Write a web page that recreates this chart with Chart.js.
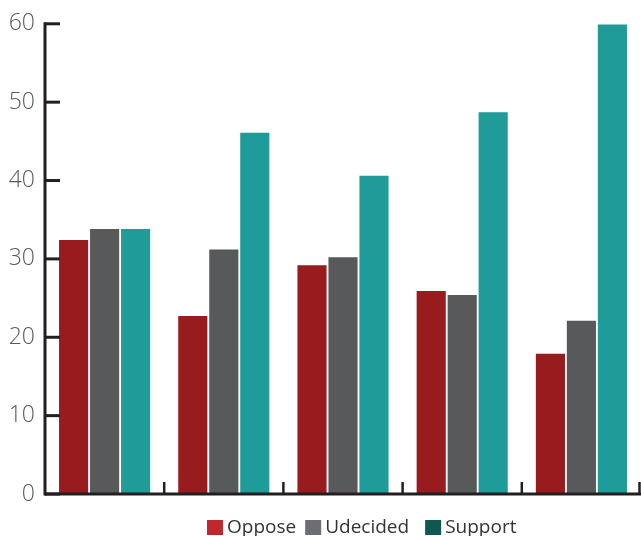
<!DOCTYPE html>
<html>
<head>
<meta charset="utf-8">
<script src="https://cdn.jsdelivr.net/npm/chart.js@4.4.1/dist/chart.umd.min.js"></script>
<style>
  html, body { margin: 0; padding: 0; background: #ffffff; }
  #wrap { position: relative; width: 641px; height: 536px; }
</style>
</head>
<body>
<div id="wrap"><canvas id="pollChart"></canvas></div>
<script>
// ==========================================
// DATA
// ==========================================

const groups = ["1", "2", "3", "4", "5"];

const seriesNames = ["Oppose", "Udecided", "Support"];

const opposeValues = [32.4, 22.7, 29.2, 25.9, 17.9];
const undecidedValues = [33.8, 31.2, 30.2, 25.4, 22.1];
const supportValues = [33.8, 46.1, 40.6, 48.7, 59.9];

const yTicks = [0, 10, 20, 30, 40, 50, 60];

// bar colours and (slightly different) legend swatch colours
const barColors = ["#981b1e", "#58595b", "#1f9b99"];
const legendColors = ["#c1272d", "#6d6e71", "#0e584f"];

const axisColor = "#231f20";
const fontFamily = "'Open Sans', 'Noto Sans', sans-serif";

// ==========================================
// AXES + LEGEND PLUGIN
// ==========================================

const axesPlugin = {
    id: "axesPlugin",
    afterDraw(chart) {
        const ctx = chart.ctx;
        const x = chart.scales.x;
        const y = chart.scales.y;
        const area = chart.chartArea;

        ctx.save();
        ctx.strokeStyle = axisColor;
        ctx.lineWidth = 3;
        ctx.lineCap = "butt";

        // y axis line
        ctx.beginPath();
        ctx.moveTo(area.left, y.getPixelForValue(yTicks[yTicks.length - 1]) - 1.5);
        ctx.lineTo(area.left, area.bottom + 1.5);
        ctx.stroke();

        // y ticks pointing inwards
        yTicks.forEach(v => {
            const py = y.getPixelForValue(v);
            ctx.beginPath();
            ctx.moveTo(area.left, py);
            ctx.lineTo(area.left + 15, py);
            ctx.stroke();
        });

        // x axis line
        ctx.beginPath();
        ctx.moveTo(area.left, area.bottom);
        ctx.lineTo(area.right, area.bottom);
        ctx.stroke();

        // x ticks at group boundaries, pointing up
        ctx.lineWidth = 2.5;
        const step = x.getPixelForValue(1) - x.getPixelForValue(0);
        for (let i = 1; i <= groups.length; i++) {
            let px = x.getPixelForValue(i) - step / 2;
            if (i === groups.length) px = Math.min(px, area.right - 1.5);
            ctx.beginPath();
            ctx.moveTo(px, area.bottom);
            ctx.lineTo(px, area.bottom - 12);
            ctx.stroke();
        }

        // legend
        ctx.font = "19px " + fontFamily;
        ctx.textBaseline = "middle";
        ctx.fillStyle = "#333333";
        let lx = 207;
        const ly = 527;
        const gaps = [9, 16, 0];
        chart.data.datasets.forEach((ds, i) => {
            ctx.fillStyle = legendColors[i];
            ctx.fillRect(lx, ly - 7, 16, 15);
            lx += 16 + 4;
            ctx.fillStyle = "#333333";
            ctx.fillText(ds.label, lx, ly + 1);
            lx += ctx.measureText(ds.label).width + gaps[i];
        });

        ctx.restore();
    }
};

// ==========================================
// BAR CHART
// ==========================================

const pollCtx = document.getElementById("pollChart");

new Chart(pollCtx, {

    type: "bar",

    data: {

        labels: groups,

        datasets: [
            { label: seriesNames[0], data: opposeValues, backgroundColor: barColors[0] },
            { label: seriesNames[1], data: undecidedValues, backgroundColor: barColors[1] },
            { label: seriesNames[2], data: supportValues, backgroundColor: barColors[2] }
        ]

    },

    options: {

        responsive: true,

        maintainAspectRatio: false,

        animation: false,

        datasets: {
            bar: {
                categoryPercentage: 0.78,
                barPercentage: 0.94
            }
        },

        layout: {
            padding: { top: 21, right: 0, bottom: 34, left: 0 }
        },

        plugins: {

            legend: { display: false },

            tooltip: { enabled: false }

        },

        scales: {

            x: {
                grid: { display: false },
                border: { display: false },
                ticks: { display: false }
            },

            y: {
                min: 0,
                max: 60,
                afterFit(scale) { scale.width = 45; },
                afterBuildTicks(scale) { scale.ticks = yTicks.map(v => ({ value: v })); },
                grid: { display: false, drawTicks: false },
                border: { display: false },
                ticks: {
                    padding: 10,
                    color: "#58595b",
                    font: { family: fontFamily, size: 23, weight: "300" }
                }
            }

        }

    },

    plugins: [axesPlugin]

});
</script>
</body>
</html>
